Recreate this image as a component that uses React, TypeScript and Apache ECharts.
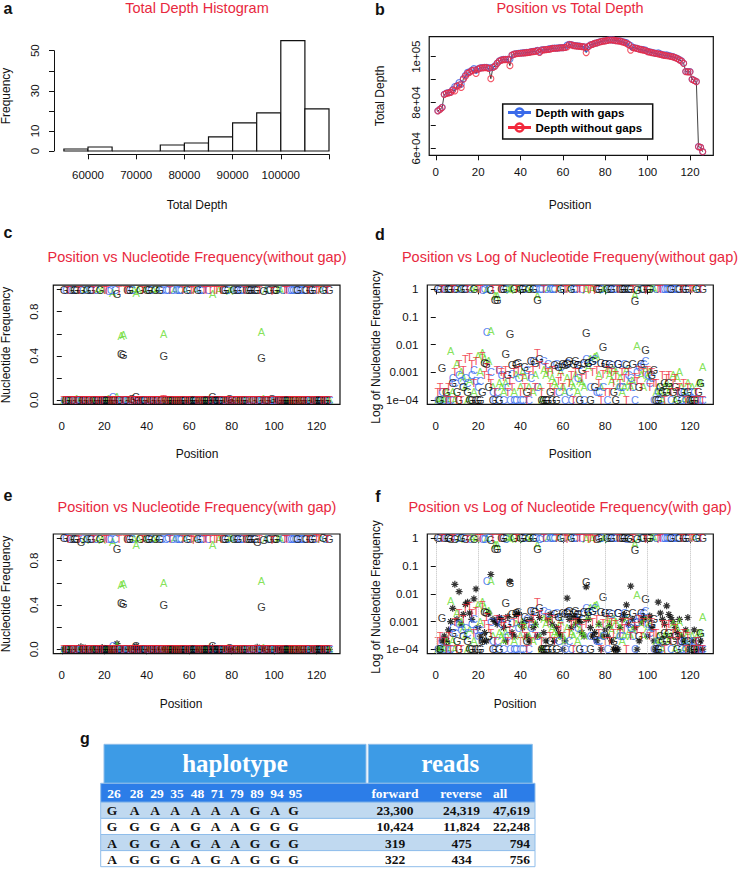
import { useEffect, useRef } from 'react';
import * as echarts from 'echarts';

// ---------- Panel a: histogram ----------
const binStarts = [55000, 60000, 65000, 70000, 75000, 80000, 85000, 90000, 95000, 100000, 105000];
const binWidth = 5000;
const histCounts = [1, 2, 0, 0, 3, 4, 7, 14, 19, 55, 21];
const histYLabelsShown = [0, 10, 30, 50];
const histXLabelsShown = [60000, 70000, 80000, 90000, 100000];

// ---------- Panel b: depth per position ----------
const depthNoGap = [
  76300, 77000, 77800, 83500, 84000, 84200, 84400, 85400, 85100, 87200,
  87600, 86600, 90200, 91500, 92700, 93200, 93900, 94200, 92700, 94600,
  95050, 95100, 95200, 95200, 94900, 90400, 95300, 95900, 97100, 98100,
  98500, 98700, 98700, 98800, 96100, 100700, 101100, 101300, 101400, 101500,
  101600, 101700, 101800, 101900, 102100, 102200, 102300, 102700, 101900, 102900,
  103000, 103100, 103200, 103300, 103600, 103700, 103700, 103800, 103900, 103900,
  104000, 104300, 105300, 105200, 104800, 104700, 104600, 104500, 104400, 104300,
  101800, 104400, 105100, 105400, 105800, 106000, 106300, 106600, 106800, 106900,
  107100, 107300, 107300, 107200, 107000, 106900, 106800, 106500, 106200, 105800,
  105300, 102900, 104000, 103800, 103600, 103300, 103100, 102900, 102700, 102200,
  102000, 101800, 101600, 101400, 101200, 101000, 100800, 100600, 100400, 100300,
  100100, 99900, 99600, 99200, 98600, 98100, 97100, 93500, 93400, 93400,
  90100, 89600, 89100, 60700, 60400, 58500,
];
const depthGap = [
  76400, 77100, 77900, 83600, 84100, 84300, 84500, 85660, 87000, 87300,
  88660, 88000, 90400, 91900, 93170, 93400, 94000, 94800, 94100, 94700,
  95100, 95200, 95300, 95300, 95100, 95160, 95400, 96000, 97200, 98200,
  98600, 98800, 98800, 98900, 98870, 100750, 101150, 101400, 101500, 101600,
  101700, 101800, 101850, 101950, 102200, 102300, 102400, 102750, 102100, 102950,
  103050, 103150, 103300, 103500, 103700, 103750, 103750, 103850, 103950, 103950,
  104050, 105030, 105400, 105300, 104950, 104800, 104700, 104600, 104450, 104350,
  103660, 104500, 105200, 105450, 105850, 106050, 106400, 106650, 106850, 106950,
  107150, 107400, 107350, 107250, 107050, 106950, 106900, 106650, 106400, 106200,
  105400, 104890, 104100, 103900, 103650, 103350, 103200, 103050, 102850, 102250,
  102150, 101850, 101650, 101450, 101700, 101200, 100900, 100700, 100770, 100500,
  100250, 100000, 99650, 99250, 98700, 98150, 97150, 93550, 93500, 93450,
  90150, 89650, 89150, 60750, 60450, 58550,
];
const depthTicks = [60000, 70000, 80000, 90000, 100000];
const depthLabels = [60000, 80000, 100000];
const depthLabelText = ['6e+04', '8e+04', '1e+05'];

// ---------- Panels c-f: nucleotide frequencies (per 10 000 reads) ----------
const consensus = (
  'GCTGCGGTGC' + 'AGCGTCAGAT' + 'TCCACGTAAT' + 'GGCAAAGTAG' + 'GCAGAGCACC' +
  'TCACCCTAGC' + 'TTAGCCTTCT' + 'ATTATGGCAA' + 'GCGCCTGGGC' + 'GGTAGACGTG' +
  'GAACTTCCCC' + 'GCCCGTGGCT' + 'TAGCTG'
).split('');
const majorNoGap = [
  9996, 9995, 9983, 9996, 9995, 9995, 9941, 9988, 9985, 9977,
  9971, 9984, 9979, 9961, 9993, 9959, 9971, 9982, 9969, 9956,
  9984, 9908, 9940, 9685, 9966, 9620, 9994, 5795, 5886, 9983,
  9979, 9990, 9939, 9987, 9720, 9970, 9987, 9971, 9960, 9994,
  9983, 9975, 9985, 9988, 9967, 9961, 9967, 5947, 9949, 9996,
  9962, 9976, 9969, 9983, 9981, 9976, 9976, 9978, 9968, 9974,
  9979, 9952, 9969, 9987, 9976, 9957, 9974, 9976, 9978, 9974,
  9580, 9941, 9966, 9940, 9932, 9946, 9986, 9974, 9908, 9958,
  9975, 9970, 9967, 9982, 9981, 9957, 9987, 9985, 9971, 9969,
  9978, 9988, 9972, 6192, 9895, 9970, 9969, 9967, 9896, 9974,
  9983, 9976, 9983, 9993, 9994, 9994, 9989, 9992, 9988, 9986,
  9994, 9986, 9990, 9991, 9985, 9994, 9993, 9996, 9991, 9996,
  9995, 9996, 9996, 9993, 9991, 9983,
];
const majorWithGap = [
  9995, 9994, 9981, 9993, 9993, 9990, 9931, 9958, 9650, 9965,
  9851, 9976, 9961, 9919, 9943, 9939, 9959, 9916, 9819, 9950,
  9981, 9906, 9936, 9683, 9946, 9050, 9982, 5789, 5881, 9969,
  9967, 9984, 9937, 9972, 9450, 9966, 9984, 9953, 9940, 9986,
  9977, 9965, 9982, 9986, 9955, 9955, 9959, 5945, 9935, 9995,
  9958, 9974, 9957, 9965, 9973, 9974, 9970, 9974, 9965, 9973,
  9977, 9882, 9957, 9981, 9961, 9949, 9962, 9966, 9974, 9971,
  9410, 9929, 9960, 9937, 9928, 9944, 9978, 9973, 9905, 9953,
  9972, 9963, 9965, 9981, 9980, 9956, 9981, 9973, 9953, 9929,
  9970, 9650, 9960, 6188, 9894, 9968, 9959, 9953, 9884, 9971,
  9967, 9970, 9981, 9992, 9944, 9974, 9977, 9984, 9951, 9968,
  9980, 9976, 9984, 9987, 9973, 9991, 9991, 9991, 9977, 9995,
  9993, 9991, 9995, 9992, 9989, 9982,
];
const minorA = [
  1, 1, 1, 1, 2, 1, 57, 2, 1, 20,
  0, 10, 6, 3, 1, 5, 0, 2, 0, 40,
  10, 50, 30, 0, 25, 300, 3, 0, 0, 4,
  3, 2, 4, 0, 0, 0, 2, 8, 0, 3,
  10, 7, 0, 3, 0, 2, 8, 0, 3, 1,
  12, 8, 0, 12, 6, 4, 3, 0, 10, 3,
  2, 6, 0, 4, 3, 8, 2, 5, 4, 3,
  0, 15, 30, 0, 35, 40, 8, 3, 0, 0,
  12, 8, 5, 12, 10, 3, 6, 2, 3, 12,
  4, 3, 5, 0, 90, 0, 8, 3, 12, 6,
  10, 0, 0, 2, 3, 2, 1, 3, 4, 2,
  3, 8, 1, 6, 10, 3, 1, 2, 4, 1,
  3, 0, 1, 4, 4, 15,
];
const minorC = [
  1, 0, 2, 1, 0, 1, 1, 6, 4, 0,
  8, 5, 0, 6, 4, 0, 8, 12, 5, 3,
  5, 0, 0, 280, 0, 10, 2, 1, 2, 12,
  8, 1, 0, 3, 1, 9, 1, 1, 6, 1,
  1, 0, 12, 1, 6, 25, 0, 3, 0, 0,
  25, 0, 20, 0, 0, 0, 20, 2, 15, 0,
  1, 22, 2, 1, 0, 0, 6, 18, 0, 1,
  30, 22, 3, 25, 30, 2, 2, 0, 3, 20,
  1, 0, 18, 0, 0, 20, 3, 3, 20, 0,
  8, 6, 3, 1, 10, 15, 0, 20, 25, 8,
  4, 6, 1, 0, 2, 1, 0, 0, 0, 0,
  1, 0, 0, 0, 2, 1, 2, 1, 0, 2,
  1, 2, 1, 0, 1, 1,
];
const minorG = [
  0, 1, 14, 0, 2, 0, 0, 4, 0, 2,
  1, 0, 3, 0, 2, 1, 1, 0, 1, 1,
  1, 2, 22, 20, 3, 0, 1, 4200, 4100, 1,
  0, 0, 45, 8, 250, 18, 0, 20, 22, 0,
  0, 15, 2, 0, 25, 0, 22, 4000, 30, 1,
  1, 1, 1, 2, 1, 18, 1, 15, 0, 20,
  18, 20, 25, 0, 20, 25, 18, 1, 12, 22,
  260, 22, 1, 25, 3, 0, 0, 22, 80, 20,
  0, 20, 0, 2, 1, 20, 0, 0, 0, 18,
  0, 0, 20, 3800, 0, 3, 20, 0, 66, 0,
  0, 8, 12, 1, 1, 3, 2, 4, 2, 4,
  0, 2, 3, 1, 0, 2, 0, 0, 2, 1,
  1, 1, 0, 2, 4, 0,
];
const minorT = [
  2, 3, 0, 2, 1, 3, 1, 0, 10, 1,
  20, 1, 12, 30, 0, 35, 20, 4, 25, 0,
  0, 40, 8, 15, 6, 4, 0, 2, 12, 0,
  10, 7, 12, 2, 5, 3, 10, 0, 12, 2,
  6, 3, 1, 8, 2, 12, 3, 50, 18, 2,
  0, 15, 10, 3, 12, 2, 0, 5, 7, 3,
  0, 0, 4, 8, 1, 10, 0, 0, 6, 0,
  8, 0, 0, 10, 0, 12, 4, 1, 9, 2,
  12, 2, 10, 4, 8, 0, 4, 10, 6, 1,
  10, 3, 0, 7, 5, 12, 3, 10, 0, 12,
  3, 10, 4, 4, 0, 0, 8, 1, 6, 8,
  2, 4, 6, 2, 3, 0, 4, 1, 3, 0,
  0, 1, 2, 1, 0, 1,
];
const gapFreq = [
  1, 1, 2, 3, 2, 5, 10, 30, 220, 12,
  120, 8, 18, 42, 50, 20, 12, 66, 150, 6,
  3, 2, 4, 2, 20, 500, 12, 10, 8, 14,
  12, 6, 2, 15, 280, 4, 3, 18, 20, 8,
  6, 10, 3, 2, 12, 6, 8, 3, 14, 1,
  4, 2, 12, 18, 8, 2, 6, 4, 3, 1,
  2, 70, 12, 6, 15, 8, 12, 10, 4, 3,
  180, 12, 6, 3, 4, 2, 8, 1, 3, 5,
  3, 7, 2, 1, 1, 1, 6, 12, 18, 40,
  8, 190, 12, 6, 1, 2, 10, 14, 12, 3,
  16, 6, 2, 1, 50, 20, 12, 8, 37, 18,
  14, 10, 6, 4, 12, 3, 2, 5, 14, 1,
  2, 5, 1, 1, 2, 1,
];
const bases = ['A', 'C', 'G', 'T'];
const positionTicks = [0, 20, 40, 60, 80, 100, 120];
const linTicks = [0, 0.2, 0.4, 0.6, 0.8, 1.0];
const linLabels = [0, 0.4, 0.8];
const logTicks = [-4, -3, -2, -1, 0];
const logTickText = ['1e\u221204', '0.001', '0.01', '0.1', '1'];

// ---------- Panel g: haplotype table ----------
const hapPositions = ['26', '28', '29', '35', '48', '71', '79', '89', '94', '95'];
const haplotypes = [
  ['G', 'A', 'A', 'A', 'A', 'A', 'A', 'G', 'A', 'G'],
  ['G', 'G', 'G', 'A', 'G', 'A', 'A', 'G', 'G', 'G'],
  ['A', 'G', 'G', 'A', 'G', 'A', 'A', 'G', 'G', 'G'],
  ['A', 'G', 'G', 'G', 'A', 'G', 'A', 'G', 'G', 'G'],
];
const forwardReads = [23300, 10424, 319, 322];
const reverseReads = [24319, 11824, 475, 434];
const allReads = [47619, 22248, 794, 756];

// ---------- styles ----------
const FONT = 'Liberation Sans, Arial, Helvetica, sans-serif';
const SERIF = 'Liberation Serif, Times New Roman, serif';
const RED_TITLE = '#E8283E';
const baseColors: Record<string, string> = { A: '#66DB2E', C: '#3366EE', G: '#000000', T: '#EE2233' };
const minorOf: Record<string, number[]> = { A: minorA, C: minorC, G: minorG, T: minorT };
const STAR = 'path://M5 0L5 10M0 5L10 5M1.5 1.5L8.5 8.5M1.5 8.5L8.5 1.5';

function buildOption() {
  const positions = consensus.map((_, i) => i + 1);

  const tickStyle = { lineStyle: { color: '#111', width: 1 } };
  const lblStyle = { fontSize: 11.5, color: '#111', fontFamily: FONT };

  const grids = [
    { left: 63.9, top: 40.7, width: 265.1, height: 110.3 }, // 0 hist
    { left: 88, top: 153.3, width: 241, height: 1 }, // 1 hist x axis
    { left: 54, top: 50.7, width: 1, height: 100.3 }, // 2 hist y axis
    { left: 429.2, top: 36.7, width: 284.1, height: 118.6, show: true, borderColor: '#111', borderWidth: 1.2 }, // 3 b
    { left: 53.3, top: 285.2, width: 286.7, height: 119.2, show: true, borderColor: '#111', borderWidth: 1.2 }, // 4 c
    { left: 427.3, top: 285, width: 286, height: 119.3, show: true, borderColor: '#111', borderWidth: 1.2 }, // 5 d
    { left: 53.3, top: 534, width: 286.7, height: 119.7, show: true, borderColor: '#111', borderWidth: 1.2 }, // 6 e
    { left: 427.3, top: 534, width: 286, height: 119.7, show: true, borderColor: '#111', borderWidth: 1.2 }, // 7 f
  ];

  const posAxis = (gi: number, min: number, margin: number) => ({
    gridIndex: gi, type: 'value', min, max: 131,
    axisLine: { show: false },
    axisTick: { show: true, customValues: positionTicks, length: 5, ...tickStyle },
    axisLabel: { customValues: positionTicks, margin, ...lblStyle },
    splitLine: { show: false },
  });
  const linAxis = (gi: number) => ({
    gridIndex: gi, type: 'value', min: -0.04, max: 1.04,
    axisLine: { show: false },
    axisTick: { show: true, customValues: linTicks, length: 5, ...tickStyle },
    axisLabel: { customValues: linLabels, rotate: 90, margin: 13, formatter: (v: number) => v.toFixed(1), ...lblStyle },
    splitLine: { show: false },
  });
  const logAxis = (gi: number) => ({
    gridIndex: gi, type: 'value', min: -4.16, max: 0.16,
    axisLine: { show: false },
    axisTick: { show: true, customValues: logTicks, length: 5, ...tickStyle },
    axisLabel: {
      customValues: logTicks, margin: 9, ...lblStyle,
      formatter: (v: number) => {
        const k = logTicks.findIndex((t) => Math.abs(t - v) < 1e-6);
        return k >= 0 ? logTickText[k] : '';
      },
    },
    splitLine: { show: false },
  });

  const xAxis = [
    { gridIndex: 0, type: 'value', min: 55000, max: 110000, show: false },
    {
      gridIndex: 1, type: 'value', min: 60000, max: 110000, interval: 10000,
      axisLine: { show: true, onZero: false, lineStyle: { color: '#111', width: 1 } },
      axisTick: { show: true, length: 5, ...tickStyle },
      axisLabel: { margin: 15, ...lblStyle, formatter: (v: number) => (histXLabelsShown.includes(v) ? String(v) : '') },
      splitLine: { show: false },
    },
    { gridIndex: 2, type: 'value', min: 0, max: 1, show: false },
    posAxis(3, -3.1, 11),
    posAxis(4, -4, 16),
    posAxis(5, -4, 16),
    posAxis(6, -4, 15),
    posAxis(7, -4, 15),
  ];
  const yAxis = [
    { gridIndex: 0, type: 'value', min: 0, max: 55, show: false },
    { gridIndex: 1, type: 'value', min: 0, max: 1, show: false },
    {
      gridIndex: 2, type: 'value', min: 0, max: 50, interval: 10,
      axisLine: { show: true, onZero: false, lineStyle: { color: '#111', width: 1 } },
      axisTick: { show: true, length: 5, ...tickStyle },
      axisLabel: { rotate: 90, margin: 13, ...lblStyle, formatter: (v: number) => (histYLabelsShown.includes(v) ? String(v) : '') },
      splitLine: { show: false },
    },
    {
      gridIndex: 3, type: 'value', min: 56950, max: 108730,
      axisLine: { show: false },
      axisTick: { show: true, customValues: depthTicks, length: 5, ...tickStyle },
      axisLabel: {
        customValues: depthLabels, rotate: 90, margin: 7, ...lblStyle,
        formatter: (v: number) => {
          const k = depthLabels.indexOf(v);
          return k >= 0 ? depthLabelText[k] : '';
        },
      },
      splitLine: { show: false },
    },
    linAxis(4),
    logAxis(5),
    linAxis(6),
    logAxis(7),
  ];

  const series: any[] = [];

  // a: histogram bars
  series.push({
    type: 'custom', xAxisIndex: 0, yAxisIndex: 0, silent: true,
    data: binStarts.map((b, i) => [b, b + binWidth, histCounts[i]]),
    renderItem: (_p: any, api: any) => {
      const p0 = api.coord([api.value(0), api.value(2)]);
      const p1 = api.coord([api.value(1), 0]);
      return {
        type: 'rect',
        shape: { x: p0[0], y: p0[1], width: p1[0] - p0[0], height: p1[1] - p0[1] },
        style: { fill: '#fff', stroke: '#111', lineWidth: 1.2 },
      };
    },
  });

  // b: depth
  series.push({
    type: 'line', xAxisIndex: 3, yAxisIndex: 3, silent: true, symbol: 'none',
    data: positions.map((p, i) => [p, depthNoGap[i]]),
    lineStyle: { color: '#111', width: 0.8 }, z: 1,
  });
  series.push({
    type: 'scatter', xAxisIndex: 3, yAxisIndex: 3, silent: true, symbol: 'circle', symbolSize: 6,
    data: positions.map((p, i) => [p, depthGap[i]]),
    itemStyle: { color: 'rgba(0,0,0,0)', borderColor: '#3A5FE6', borderWidth: 1.1 }, z: 2,
  });
  series.push({
    type: 'scatter', xAxisIndex: 3, yAxisIndex: 3, silent: true, symbol: 'circle', symbolSize: 6,
    data: positions.map((p, i) => [p, depthNoGap[i]]),
    itemStyle: { color: 'rgba(0,0,0,0)', borderColor: '#F02A40', borderWidth: 1.1 }, z: 3,
  });

  const letterSeries = (gi: number, base: string, major: number[], log: boolean) => ({
    type: 'scatter', xAxisIndex: gi, yAxisIndex: gi, silent: true,
    symbol: 'circle', symbolSize: 1,
    itemStyle: { color: 'rgba(0,0,0,0)' },
    label: { show: true, position: 'inside', formatter: base, color: baseColors[base], fontSize: 11, fontFamily: FONT },
    emphasis: { disabled: true },
    data: positions.map((p, i) => {
      const v = consensus[i] === base ? major[i] : minorOf[base][i];
      return [p, log ? Math.log10(Math.max(v, 1) / 10000) : v / 10000];
    }),
  });
  const gapSeries = (gi: number, log: boolean) => ({
    type: 'scatter', xAxisIndex: gi, yAxisIndex: gi, silent: true,
    symbol: STAR, symbolSize: 7,
    itemStyle: { color: 'rgba(0,0,0,0)', borderColor: '#000', borderWidth: 1.2 },
    data: positions.map((p, i) => [p, log ? Math.log10(Math.max(gapFreq[i], 1) / 10000) : gapFreq[i] / 10000]),
  });

  // f: dotted guides
  series.push({
    type: 'scatter', xAxisIndex: 7, yAxisIndex: 7, silent: true, data: [],
    markLine: {
      silent: true, symbol: ['none', 'none'], label: { show: false },
      lineStyle: { type: 'dotted', color: '#bdbdbd', width: 1 },
      data: positionTicks.map((v) => ({ xAxis: v })),
    },
  });

  bases.forEach((b) => series.push(letterSeries(4, b, majorNoGap, false)));
  bases.forEach((b) => series.push(letterSeries(5, b, majorNoGap, true)));
  bases.forEach((b) => series.push(letterSeries(6, b, majorWithGap, false)));
  series.push(gapSeries(6, false));
  bases.forEach((b) => series.push(letterSeries(7, b, majorWithGap, true)));
  series.push(gapSeries(7, true));

  // ---------- graphic texts ----------
  const txt = (text: string, x: number, y: number, o: any = {}) => ({
    type: 'text', x, y, rotation: o.rot || 0, z: 50, silent: true,
    style: {
      text, align: o.align || 'center', verticalAlign: 'middle',
      fontSize: o.size || 12, fontFamily: o.family || FONT, fontWeight: o.weight || 'normal',
      fill: o.color || '#111',
    },
  });
  const R90 = Math.PI / 2;
  const g: any[] = [
    // panel letters
    txt('a', 8, 8, { size: 16, weight: 'bold' }),
    txt('b', 380, 9, { size: 16, weight: 'bold' }),
    txt('c', 8, 232, { size: 16, weight: 'bold' }),
    txt('d', 380, 234, { size: 16, weight: 'bold' }),
    txt('e', 8, 495, { size: 16, weight: 'bold' }),
    txt('f', 378, 496, { size: 16, weight: 'bold' }),
    txt('g', 85, 738, { size: 16, weight: 'bold' }),
    // titles
    txt('Total Depth Histogram', 197, 8, { size: 14.5, color: RED_TITLE }),
    txt('Position vs Total Depth', 570, 8, { size: 14.5, color: RED_TITLE }),
    txt('Position vs Nucleotide Frequency(without gap)', 197, 257, { size: 14.5, color: RED_TITLE }),
    txt('Position vs Log of Nucleotide Frequeny(without gap)', 570, 257, { size: 14.5, color: RED_TITLE }),
    txt('Position vs Nucleotide Frequency(with gap)', 197, 507, { size: 14.5, color: RED_TITLE }),
    txt('Position vs Log of Nucleotide Frequency(with gap)', 570, 507, { size: 14.5, color: RED_TITLE }),
    // axis titles
    txt('Total Depth', 197, 205),
    txt('Frequency', 6, 96, { rot: R90 }),
    txt('Position', 570, 205),
    txt('Total Depth', 380, 96, { rot: R90 }),
    txt('Position', 197, 454),
    txt('Nucleotide Frequency', 6, 345, { rot: R90 }),
    txt('Position', 570, 454),
    txt('Log of Nucleotide Frequency', 376, 347, { rot: R90 }),
    txt('Position', 181, 704),
    txt('Nucleotide Frequency', 6, 594, { rot: R90 }),
    txt('Position', 515, 704),
    txt('Log of Nucleotide Frequency', 376, 597, { rot: R90 }),
    // legend of b
    { type: 'rect', z: 60, silent: true, shape: { x: 502.7, y: 104, width: 150, height: 35 }, style: { fill: '#fff', stroke: '#111', lineWidth: 1.5 } },
    { type: 'line', z: 61, silent: true, shape: { x1: 508, y1: 112.5, x2: 531, y2: 112.5 }, style: { stroke: '#3A6AEA', lineWidth: 3 } },
    { type: 'circle', z: 61, silent: true, shape: { cx: 519.5, cy: 112.5, r: 4 }, style: { fill: 'none', stroke: '#3A6AEA', lineWidth: 2.5 } },
    { type: 'line', z: 61, silent: true, shape: { x1: 508, y1: 127.5, x2: 531, y2: 127.5 }, style: { stroke: '#F2283C', lineWidth: 3 } },
    { type: 'circle', z: 61, silent: true, shape: { cx: 519.5, cy: 127.5, r: 4 }, style: { fill: 'none', stroke: '#F2283C', lineWidth: 2.5 } },
    { ...txt('Depth with gaps', 535.5, 112.5, { align: 'left', size: 11.5, weight: 'bold', color: '#000' }), z: 62 },
    { ...txt('Depth without gaps', 535.5, 127.5, { align: 'left', size: 11.5, weight: 'bold', color: '#000' }), z: 62 },
  ];

  // ---------- table ----------
  const HDR = '#3D9BE6';
  const SUB = '#2C7DE8';
  const LIGHT = '#C0D9F0';
  const BORDER = '#8FBDEA';
  const hapCols = [112, 134.5, 155, 175, 195.5, 215.5, 235, 255, 275, 293.5];
  const rowTop0 = 802.3;
  const rowH = 16.1;
  const cell = { size: 13.5, weight: 'bold', family: SERIF, color: '#111' };
  const subCell = { size: 13.5, weight: 'bold', family: SERIF, color: '#fff' };
  g.push({ type: 'rect', silent: true, shape: { x: 104, y: 744.3, width: 262, height: 39 }, style: { fill: HDR, stroke: BORDER, lineWidth: 1 } });
  g.push({ type: 'rect', silent: true, shape: { x: 368.3, y: 744.3, width: 164, height: 39 }, style: { fill: HDR, stroke: BORDER, lineWidth: 1 } });
  g.push(txt('haplotype', 235, 763.5, { size: 25, weight: 'bold', family: SERIF, color: '#fff' }));
  g.push(txt('reads', 450.3, 763.5, { size: 25, weight: 'bold', family: SERIF, color: '#fff' }));
  g.push({ type: 'rect', silent: true, shape: { x: 100.7, y: 783.3, width: 434.3, height: 19 }, style: { fill: SUB, stroke: BORDER, lineWidth: 1 } });
  hapPositions.forEach((h, c) => g.push(txt(h, hapCols[c] + 2, 793, subCell)));
  g.push(txt('forward', 395, 793, subCell));
  g.push(txt('reverse', 461, 793, subCell));
  g.push(txt('all', 493, 793, { ...subCell, align: 'left' }));
  haplotypes.forEach((row, r) => {
    const y0 = rowTop0 + r * rowH;
    g.push({ type: 'rect', silent: true, shape: { x: 100.7, y: y0, width: 434.3, height: rowH }, style: { fill: r % 2 === 0 ? LIGHT : '#fff', stroke: BORDER, lineWidth: 1 } });
    const yc = y0 + rowH / 2 + 0.5;
    row.forEach((l, c) => g.push(txt(l, hapCols[c], yc, cell)));
    g.push(txt(forwardReads[r].toLocaleString('en-US'), 395, yc, cell));
    g.push(txt(reverseReads[r].toLocaleString('en-US'), 461.5, yc, cell));
    g.push(txt(allReads[r].toLocaleString('en-US'), 530, yc, { ...cell, align: 'right' }));
  });

  return {
    animation: false,
    backgroundColor: '#fff',
    grid: grids,
    xAxis,
    yAxis,
    series,
    graphic: g,
  };
}

export default function App() {
  const ref = useRef<HTMLDivElement>(null);
  useEffect(() => {
    if (!ref.current) return;
    const chart = echarts.init(ref.current, null, { renderer: 'svg' });
    chart.setOption(buildOption() as any);
    return () => chart.dispose();
  }, []);
  return (
    <div
      ref={ref}
      style={{ position: 'absolute', left: 0, top: 0, width: 741, height: 876, background: '#fff' }}
    />
  );
}
